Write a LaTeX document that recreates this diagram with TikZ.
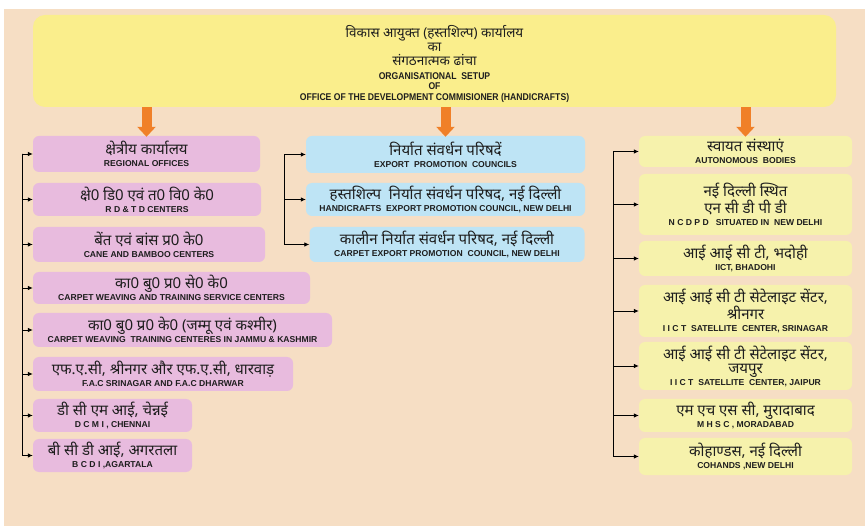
\documentclass[tikz,border=0pt]{standalone}
\usepackage{fontspec}
\usetikzlibrary{arrows.meta}
\newfontfamily\hindi[Script=Devanagari]{Noto Sans}
\newfontfamily\eng{Liberation Sans}
\newfontfamily\engn[FakeStretch=0.88]{Liberation Sans}
\definecolor{bg}{RGB}{246,222,196}
\definecolor{topy}{RGB}{250,238,140}
\definecolor{pinkb}{RGB}{232,187,222}
\definecolor{blueb}{RGB}{190,228,245}
\definecolor{ylwb}{RGB}{246,242,172}
\definecolor{orng}{RGB}{240,128,40}
\definecolor{txt}{RGB}{30,30,30}
\newcommand\hl[1]{{\hindi\fontsize{15}{14}\selectfont #1}}
\newcommand\el[1]{{\eng\bfseries\fontsize{8.6}{14}\selectfont #1}}
\newcommand\tophl[1]{{\hindi\fontsize{13.5}{14}\selectfont #1}}
\newcommand\topel[1]{{\engn\bfseries\fontsize{9.8}{14}\selectfont #1}}
\tikzset{
  box/.style={rounded corners=6pt, inner sep=0pt, align=center, text=txt, font=\fontsize{9}{14}\selectfont},
  pbox/.style={box, fill=pinkb},
  bbox/.style={box, fill=blueb},
  ybox/.style={box, fill=ylwb},
  conn/.style={draw=black, line width=0.8pt, -{Latex[length=5pt,width=4.5pt]}},
  bigarrow/.style={draw=orng, line width=10pt, -{Triangle[length=10pt,width=18pt]}, shorten >=-1pt}
}
\begin{document}
\begin{tikzpicture}[x=1pt,y=-1pt]
\useasboundingbox (0,0) rectangle (865,526);
\fill[white] (0,0) rectangle (865,526);
\fill[bg] (4,9) rectangle (865,526);

% top box
\node[box, fill=topy, rounded corners=12pt, minimum width=803pt, minimum height=92pt] (top) at (434.5,61)
{\rule{0pt}{18pt}\tophl{विकास आयुक्त (हस्तशिल्प) कार्यालय}\\[0pt]
 \tophl{का}\\[0pt]
 \tophl{संगठनात्मक ढांचा}\\[0pt]
 \topel{ORGANISATIONAL\ \ SETUP}\\[-3.5pt]
 \topel{OF}\\[-3.5pt]
 \topel{OFFICE OF THE DEVELOPMENT COMMISIONER (HANDICRAFTS)}};

% left column
\node[pbox, minimum width=227pt, minimum height=36pt] (reg) at (146.5,154) {\hl{क्षेत्रीय कार्यालय}\\[-2pt]\el{REGIONAL OFFICES}};
\node[pbox, minimum width=228pt, minimum height=33pt] (rdtd) at (147,199.5) {\hl{क्षे0 डि0 एवं त0 वि0 के0}\\[-2pt]\el{R D \& T D CENTERS}};
\node[pbox, minimum width=232pt, minimum height=35pt] (cane) at (149,244.5) {\hl{बेंत एवं बांस प्र0 के0}\\[-2pt]\el{CANE AND BAMBOO CENTERS}};
\node[pbox, minimum width=277pt, minimum height=32pt] (cwtsc) at (171.5,288) {\hl{का0 बु0 प्र0 से0 के0}\\[-2pt]\el{CARPET WEAVING AND TRAINING SERVICE CENTERS}};
\node[pbox, minimum width=299pt, minimum height=34pt] (cwtc) at (182.5,330) {\hl{का0 बु0 प्र0 के0 (जम्मू एवं कश्मीर)}\\[-2pt]\el{CARPET WEAVING\ \ TRAINING CENTERES IN JAMMU \& KASHMIR}};
\node[pbox, minimum width=260pt, minimum height=34pt] (fac) at (163,374) {\hl{एफ.ए.सी, श्रीनगर और एफ.ए.सी, धारवाड़}\\[-2pt]\el{F.A.C SRINAGAR AND F.A.C DHARWAR}};
\node[pbox, minimum width=159pt, minimum height=33pt] (dcmi) at (112.5,415.5) {\hl{डी सी एम आई, चेन्नई}\\[-2pt]\el{D C M I , CHENNAI}};
\node[pbox, minimum width=159pt, minimum height=33pt] (bcdi) at (112.5,455.5) {\hl{बी सी डी आई, अगरतला}\\[-2pt]\el{B C D I ,AGARTALA}};

% middle column
\node[bbox, minimum width=279pt, minimum height=37pt] (epc) at (445.5,154.5) {\hl{निर्यात संवर्धन परिषदें}\\[-2pt]\el{EXPORT\ \ PROMOTION\ \ COUNCILS}};
\node[bbox, minimum width=279pt, minimum height=33pt] (hepc) at (445.5,199.5) {\hl{हस्तशिल्प\ \ निर्यात संवर्धन परिषद, नई दिल्ली}\\[-2pt]\el{HANDICRAFTS\ \ EXPORT PROMOTION COUNCIL, NEW DELHI}};
\node[bbox, minimum width=275pt, minimum height=35pt] (cepc) at (447,244.5) {\hl{कालीन निर्यात संवर्धन परिषद, नई दिल्ली}\\[-2pt]\el{CARPET EXPORT PROMOTION\ \ COUNCIL, NEW DELHI}};

% right column
\node[ybox, minimum width=213pt, minimum height=31pt] (ab) at (745.5,151.5) {\hl{स्वायत संस्थाएं}\\[-2pt]\el{AUTONOMOUS\ \ BODIES}};
\node[ybox, minimum width=213pt, minimum height=61pt] (ncdpd) at (745.5,204.5) {\hl{नई दिल्ली स्थित}\\[0pt]\hl{एन सी डी पी डी}\\[-2pt]\el{N C D P D\ \ \ SITUATED IN\ \ NEW DELHI}};
\node[ybox, minimum width=213pt, minimum height=35pt] (iict) at (745.5,258.5) {\hl{आई आई सी टी, भदोही}\\[-2pt]\el{IICT, BHADOHI}};
\node[ybox, minimum width=213pt, minimum height=52pt] (srin) at (745.5,311) {\hl{आई आई सी टी सेटेलाइट सेंटर,}\\[0pt]\hl{श्रीनगर}\\[-2pt]\el{I I C T\ \ SATELLITE\ \ CENTER, SRINAGAR}};
\node[ybox, minimum width=213pt, minimum height=48pt] (jaip) at (745.5,366) {\hl{आई आई सी टी सेटेलाइट सेंटर,}\\[0.5pt]\hl{जयपुर}\\[-2.5pt]\el{I I C T\ \ SATELLITE\ \ CENTER, JAIPUR}};
\node[ybox, minimum width=213pt, minimum height=33pt] (mhsc) at (745.5,415.5) {\hl{एम एच एस सी, मुरादाबाद}\\[-2pt]\el{M H S C , MORADABAD}};
\node[ybox, minimum width=213pt, minimum height=37pt] (coh) at (745.5,456.5) {\hl{कोहाण्डस, नई दिल्ली}\\[-2pt]\el{COHANDS ,NEW DELHI}};

% orange arrows from the top box
\draw[bigarrow] (top.south -| reg.north) -- (reg.north);
\draw[bigarrow] (top.south -| epc.north) -- (epc.north);
\draw[bigarrow] (top.south -| ab.north) -- (ab.north);

% trunks
\coordinate (lt) at (22,154);
\coordinate (mt) at (284,154.5);
\coordinate (rt) at (613,151.5);
\foreach \b in {reg,rdtd,cane,cwtsc,cwtc,fac,dcmi,bcdi} \draw[conn] (lt) |- (\b.west);
\foreach \b in {epc,hepc,cepc} \draw[conn] (mt) |- (\b.west);
\foreach \b in {ab,ncdpd,iict,srin,jaip,mhsc,coh} \draw[conn] (rt) |- (\b.west);
\end{tikzpicture}
\end{document}
